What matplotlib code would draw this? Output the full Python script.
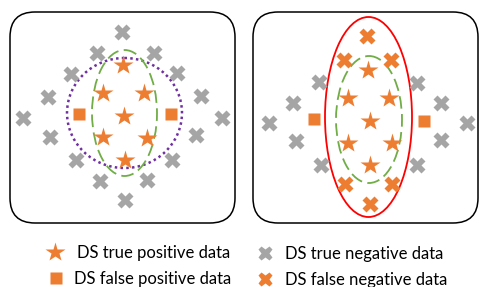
import matplotlib
matplotlib.use('Agg')
import matplotlib.pyplot as plt
from matplotlib.patches import Ellipse, FancyBboxPatch

# pixel-style coordinates (x right, y down)
left_tp_x = [123, 103, 144, 124, 103, 147, 125]
left_tp_y = [65, 93, 93, 116, 137, 138, 160]
left_fp_x = [79, 171]
left_fp_y = [114, 114]
left_tn_x = [122, 97, 154, 71, 177, 48, 201, 23, 222, 50, 196, 76, 172, 100, 147, 125]
left_tn_y = [32, 53, 53, 74, 73, 97, 96, 118, 118, 137, 135, 160, 160, 181, 180, 200]

right_tp_x = [368, 348, 389, 370, 348, 392, 370]
right_tp_y = [70, 98, 98, 121, 143, 143, 165]
right_fp_x = [314, 424]
right_fp_y = [119, 121]
right_fn_x = [367, 344, 391, 345, 392, 370]
right_fn_y = [36, 60, 60, 184, 184, 204]
right_tn_x = [319, 417, 293, 441, 269, 467, 296, 441, 321, 417]
right_tn_y = [82, 83, 103, 103, 123, 123, 141, 140, 165, 165]

legend_labels = ['DS true positive data', 'DS false positive data',
                 'DS true negative data', 'DS false negative data']

orange = '#ED7D31'
gray = '#A5A5A5'
green = '#70AD47'
purple = '#7030A0'

fig = plt.figure(figsize=(4.79, 2.87), dpi=100)
ax = fig.add_axes([0, 0, 1, 1])
ax.set_xlim(0, 479)
ax.set_ylim(287, 0)
ax.axis('off')

# panel frames
for x0 in [10, 253]:
    ax.add_patch(FancyBboxPatch((x0 + 25, 12 + 25), 225 - 50, 211 - 50,
                                boxstyle='round,pad=25', fc='white', ec='black', lw=1.1))

xs = 12
# left panel
ax.add_patch(Ellipse((124.5, 113), 115, 110, fill=False, ec=purple, lw=1.8, ls=(0, (1, 1.3))))
ax.add_patch(Ellipse((124.5, 113), 65, 126, fill=False, ec=green, lw=1.3, ls=(0, (7, 3))))
ax.plot(left_tn_x, left_tn_y, 'X', color=gray, ms=xs, mec='none', ls='none')
ax.plot(left_tp_x, left_tp_y, '*', color=orange, ms=15, mec='none', ls='none')
ax.plot(left_fp_x, left_fp_y, 's', color=orange, ms=8.5, mec='none', ls='none')

# right panel
ax.add_patch(Ellipse((368.5, 117), 87, 200, fill=False, ec='#FF0000', lw=1.3))
ax.add_patch(Ellipse((369, 119.5), 66, 127, fill=False, ec=green, lw=1.3, ls=(0, (7, 3))))
ax.plot(right_tn_x, right_tn_y, 'X', color=gray, ms=xs, mec='none', ls='none')
ax.plot(right_fn_x, right_fn_y, 'X', color=orange, ms=xs, mec='none', ls='none')
ax.plot(right_tp_x, right_tp_y, '*', color=orange, ms=15, mec='none', ls='none')
ax.plot(right_fp_x, right_fp_y, 's', color=orange, ms=8.5, mec='none', ls='none')

# legend
ax.plot([55], [252], '*', color=orange, ms=15, mec='none')
ax.plot([56], [278], 's', color=orange, ms=8, mec='none')
ax.plot([265], [253], 'X', color=gray, ms=10.5, mec='none')
ax.plot([265], [279], 'X', color=orange, ms=10.5, mec='none')
fs = 12
fam = 'Lato'
ax.text(77, 253, legend_labels[0], fontsize=fs, va='center', family=fam)
ax.text(74, 279, legend_labels[1], fontsize=fs, va='center', family=fam)
ax.text(285, 254, legend_labels[2], fontsize=fs, va='center', family=fam)
ax.text(285, 280, legend_labels[3], fontsize=fs, va='center', family=fam)

fig.savefig('out.png', dpi=100)
